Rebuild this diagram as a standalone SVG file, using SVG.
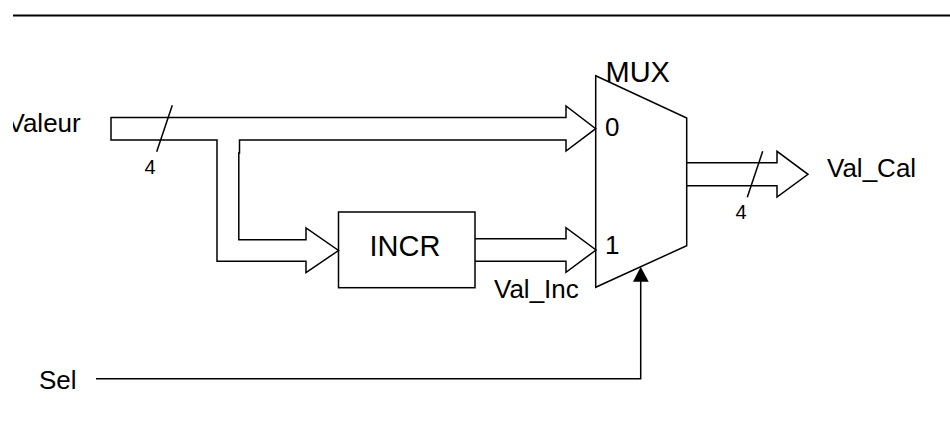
<svg xmlns="http://www.w3.org/2000/svg" width="950" height="425" viewBox="0 0 950 425">
  <style>
    .s { fill: none; stroke: #000; stroke-width: 1.5; stroke-linejoin: miter; }
    text { font-family: "Liberation Sans", Arial, sans-serif; fill: #000; }
    .a { font-size: 26px; }
    .b { font-size: 29px; }
    .c { font-size: 20px; }
  </style>
  <defs>
    <clipPath id="clipValeur"><rect x="13" y="100" width="100" height="40"/></clipPath>
  </defs>
  <rect width="950" height="425" fill="#fff"/>
  <line x1="13" y1="15.5" x2="950" y2="15.5" stroke="#000" stroke-width="2"/>
  <g id="connectors">
    <path id="bus-valeur" class="s" d="M111 117.5H566V106L595.7 128.7L566 151V140H239.5V153H238.8V239.7H306V228L338.5 250.5L306 272.7V261.3H217V140H111Z"/>
    <path id="bus-inc" class="s" d="M475 238.7H566V227.7L596 250L566 272.3V261.3H475"/>
    <path id="bus-out" class="s" d="M687 162.7H777V151.3L808 174.3L777 197V185.7H687"/>
    <line id="slash-in" class="s" x1="172.3" y1="105.3" x2="156.7" y2="151.7"/>
    <line id="slash-out" class="s" x1="762.7" y1="151.3" x2="747.3" y2="197.3"/>
    <path id="sel-line" class="s" d="M96 378.7H640.7V281"/>
    <polygon id="sel-head" points="640.7,266.7 648.7,281.7 633,281.7" fill="#000"/>
  </g>
  <g id="incr">
    <rect class="s" x="338.5" y="212" width="136.5" height="75.7"/>
    <text class="b" x="369.5" y="256">INCR</text>
  </g>
  <g id="mux">
    <polygon class="s" points="595.7,75.7 686.7,118 686.7,245.7 595.7,287.3"/>
    <text class="b" x="605.5" y="81.5">MUX</text>
    <text class="a" x="605" y="136">0</text>
    <text class="a" x="605" y="254">1</text>
  </g>
  <g id="labels">
    <text class="a" x="7.5" y="131.5" clip-path="url(#clipValeur)">Valeur</text>
    <text class="c" x="144.5" y="173.5">4</text>
    <text class="c" x="735.5" y="219">4</text>
    <text class="a" x="827" y="177">Val_Cal</text>
    <text class="a" x="494" y="297.5">Val_Inc</text>
    <text class="a" x="39" y="389">Sel</text>
  </g>
</svg>
